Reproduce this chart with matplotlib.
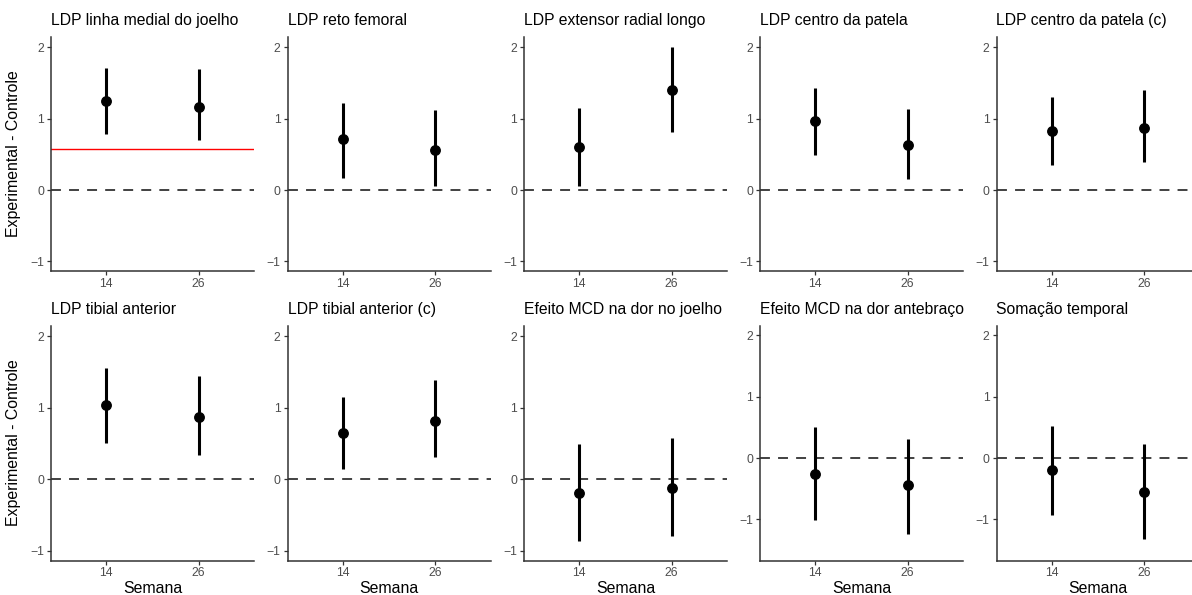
import numpy as np
import matplotlib
matplotlib.use("Agg")
import matplotlib.pyplot as plt

plt.rcParams['font.family'] = ['Liberation Sans', 'DejaVu Sans']

titles = ["LDP linha medial do joelho", "LDP reto femoral", "LDP extensor radial longo",
          "LDP centro da patela", "LDP centro da patela (c)",
          "LDP tibial anterior", "LDP tibial anterior (c)", "Efeito MCD na dor no joelho",
          "Efeito MCD na dor antebraço", "Somação temporal"]
weeks = ["14", "26"]

# estimate, lower and upper limit per panel, week 14 then week 26
est_14 = [1.25, 0.71, 0.60, 0.97, 0.83, 1.04, 0.65, -0.19, -0.26, -0.20]
lo_14 = [0.78, 0.17, 0.05, 0.49, 0.35, 0.51, 0.14, -0.86, -1.01, -0.93]
hi_14 = [1.71, 1.22, 1.15, 1.43, 1.30, 1.55, 1.15, 0.49, 0.51, 0.52]
est_26 = [1.16, 0.56, 1.40, 0.63, 0.87, 0.87, 0.82, -0.13, -0.44, -0.55]
lo_26 = [0.70, 0.05, 0.81, 0.16, 0.39, 0.34, 0.31, -0.80, -1.23, -1.32]
hi_26 = [1.69, 1.12, 2.01, 1.14, 1.40, 1.45, 1.39, 0.57, 0.31, 0.23]

red_line = 0.57  # only in the first panel

W, H = 1192, 595
fig = plt.figure(figsize=(W / 100, H / 100), dpi=100)

lefts = [51, 287.5, 524, 760, 996.5]
panel_w = 203
tops = [36.5, 325.5]
panel_h = 235

tick_grey = '#4D4D4D'
line_grey = '#333333'

for i, title in enumerate(titles):
    row, col = divmod(i, 5)
    ax = fig.add_axes([lefts[col] / W, 1 - (tops[row] + panel_h) / H,
                       panel_w / W, panel_h / H])
    x = np.arange(1, len(weeks) + 1)
    est = np.array([est_14[i], est_26[i]])
    lo = np.array([lo_14[i], lo_26[i]])
    hi = np.array([hi_14[i], hi_26[i]])

    ax.axhline(0, color=line_grey, lw=1.3, linestyle=(0, (5.5, 4.5)), zorder=1)
    if i == 0:
        ax.axhline(red_line, color='#FF0000', lw=1.0, zorder=1)
    ax.vlines(x, lo, hi, color='black', lw=2.2, zorder=2)
    ax.plot(x, est, 'o', color='black', markersize=6.8, zorder=3)

    ax.set_xlim(0.4, 2.6)
    ax.set_xticks(x)
    ax.set_xticklabels(weeks)
    if i >= 8:
        ax.set_ylim(-1.67, 2.16)
    else:
        ax.set_ylim(-1.14, 2.15)
    ax.set_yticks([-1, 0, 1, 2])

    for s in ['top', 'right']:
        ax.spines[s].set_visible(False)
    for s in ['left', 'bottom']:
        ax.spines[s].set_color(line_grey)
        ax.spines[s].set_linewidth(1.1)
    ax.tick_params(colors=line_grey, labelcolor=tick_grey, labelsize=8.8,
                   length=3, width=0.9, pad=2)

    ax.set_title(title, loc='left', fontsize=11.3, pad=8, color='black')
    if col == 0:
        ax.set_ylabel("Experimental - Controle", fontsize=11.4)
        ax.yaxis.set_label_coords(-0.15, 0.5)
    if row == 1:
        ax.set_xlabel("Semana", fontsize=11.4, labelpad=1)

fig.savefig("out.png", dpi=100)
